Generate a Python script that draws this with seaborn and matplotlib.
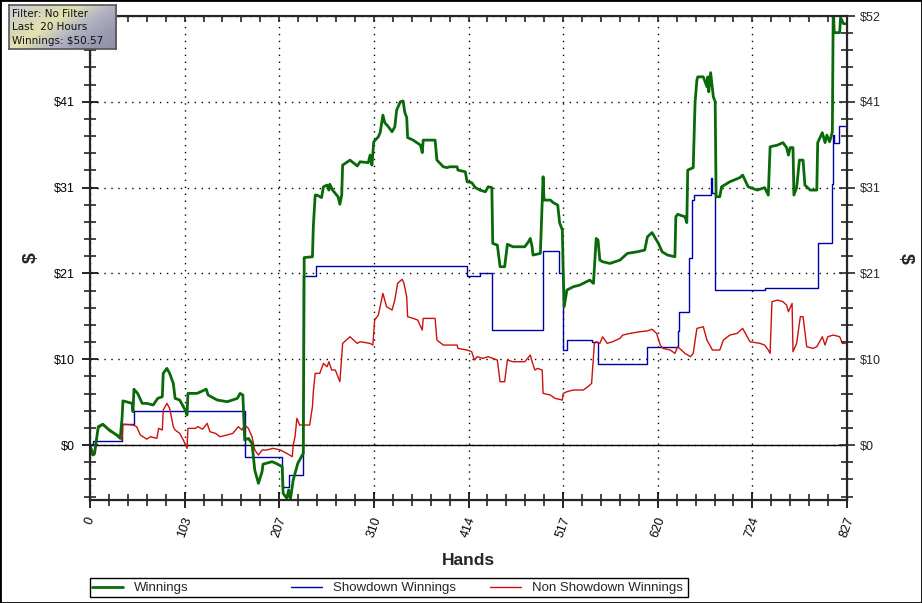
import matplotlib
matplotlib.use("Agg")
import matplotlib.pyplot as plt
import seaborn as sns
import numpy as np
import pandas as pd
from matplotlib.patches import Rectangle
from matplotlib.colors import LinearSegmentedColormap

# ---------------- data (hand number, dollars) ----------------
winnings_points = [
    (0, 0.0), (3, -1.2), (5, -1.0), (9, 2.2), (14, 2.5), (20, 1.9), (29, 1.2), (33, 0.8),
    (35, 3.2), (36, 5.3), (46, 5.0), (47, 4.0), (48, 6.7), (52, 6.2), (57, 5.0), (62, 5.0),
    (69, 4.8), (74, 5.6), (79, 5.8), (80, 8.6), (84, 9.2), (87, 8.6), (91, 7.4), (93, 5.6),
    (98, 5.4), (104, 4.2), (106, 3.6), (107, 6.2), (117, 6.2), (127, 6.7), (129, 6.0),
    (139, 5.4), (150, 5.2), (161, 5.6), (164, 6.2), (167, 6.0), (169, 0.6), (173, 0.8),
    (177, 0.2), (180, -3.0), (184, -4.6), (188, -3.2), (189, -2.3), (199, -2.0), (205, -2.3),
    (210, -2.6), (211, -5.8), (215, -6.4), (217, -5.4), (219, -6.5), (222, -4.2), (227, -2.2),
    (232, -1.2), (233, -1.0), (234, 22.5), (243, 22.6), (244, 26.3), (246, 30.0), (248, 30.0),
    (253, 29.7), (255, 31.0), (259, 31.2), (261, 30.6), (262, 31.3), (265, 30.6), (271, 29.8),
    (273, 28.9), (275, 30.0), (276, 33.6), (284, 34.2), (292, 33.5), (295, 34.0), (304, 33.9),
    (306, 34.8), (308, 33.6), (310, 36.4), (315, 37.0), (317, 37.5), (320, 39.6), (322, 38.7),
    (326, 38.2), (330, 37.6), (333, 38.2), (335, 40.2), (339, 41.2), (342, 41.3), (344, 39.9),
    (346, 39.3), (347, 36.9), (353, 36.6), (361, 36.0), (363, 35.1), (364, 36.6), (377, 36.6),
    (379, 34.2), (386, 33.4), (390, 33.3), (393, 33.4), (401, 33.4), (402, 33.0), (410, 32.8),
    (412, 31.6), (417, 31.5), (421, 30.9), (426, 30.6), (432, 30.4), (435, 31.0), (439, 30.9),
    (440, 24.2), (445, 24.0), (448, 21.4), (453, 21.4), (456, 24.1), (462, 23.8), (475, 23.8),
    (479, 24.4), (481, 24.8), (483, 23.8), (484, 22.8), (492, 23.0), (495, 32.2), (496, 29.4),
    (503, 29.4), (506, 29.1), (511, 28.8), (513, 26.7), (516, 25.8), (517, 20.6), (518, 16.6),
    (521, 18.6), (528, 19.0), (535, 19.2), (546, 19.8), (550, 19.4), (553, 24.8), (555, 24.6),
    (557, 22.2), (560, 22.0), (568, 21.8), (579, 22.2), (587, 23.0), (598, 23.2), (606, 23.4),
    (609, 25.0), (614, 25.5), (621, 24.2), (625, 23.2), (631, 22.8), (639, 22.6), (640, 27.4),
    (642, 27.7), (650, 27.4), (652, 26.7), (653, 33.0), (659, 33.3), (661, 41.1), (663, 43.8),
    (664, 44.2), (670, 44.2), (674, 43.0), (675, 44.2), (676, 42.4), (678, 44.7), (681, 41.8),
    (683, 41.2), (684, 29.8), (688, 29.8), (690, 31.0), (699, 31.6), (710, 32.1), (713, 32.4),
    (719, 31.0), (729, 30.6), (737, 30.9), (741, 30.0), (743, 35.8), (751, 36.0), (757, 36.3),
    (761, 35.7), (763, 34.8), (765, 35.7), (768, 35.7), (769, 30.0), (772, 30.9), (775, 34.2),
    (779, 34.2), (781, 31.2), (787, 30.6), (794, 30.6), (795, 36.3), (800, 37.5), (803, 36.3),
    (805, 37.2), (808, 36.4), (811, 37.6), (812, 53.0), (813, 49.5), (819, 49.5), (820, 51.3),
    (823, 50.6), (825, 50.57),
]

showdown_points = [
    (0, 0.0), (3, 0.5), (35, 2.5), (48, 4.1), (169, -1.4), (210, -5.0), (217, -3.6),
    (233, 20.3), (247, 21.5), (412, 20.3), (426, 20.6), (439, 13.8), (495, 23.3), (512, 20.6),
    (517, 11.4), (521, 12.6), (548, 12.4), (555, 9.7), (609, 11.8), (642, 13.7), (644, 16.0),
    (654, 22.4), (658, 29.4), (660, 30.0), (678, 32.0), (680, 30.2), (683, 18.6), (737, 18.8),
    (795, 24.2), (811, 31.3), (812, 37.2), (813, 36.2), (818, 38.3), (825, 38.3),
]

non_showdown_points = [
    (0, 0.0), (5, -1.2), (9, 2.0), (14, 2.4), (22, 1.6), (31, 1.2), (35, 0.6), (36, 2.5),
    (47, 2.4), (51, 2.2), (55, 1.2), (58, 1.0), (62, 0.7), (66, 1.0), (73, 0.8), (75, 2.0),
    (79, 1.8), (80, 4.2), (84, 5.0), (87, 4.4), (91, 2.2), (93, 1.8), (98, 1.4), (102, 0.6),
    (106, -0.4), (107, 2.0), (115, 2.0), (118, 2.2), (123, 1.9), (128, 2.6), (131, 1.6),
    (137, 1.4), (142, 1.0), (150, 1.2), (156, 1.4), (162, 2.2), (166, 1.8), (169, 2.4),
    (173, 2.0), (177, 1.0), (180, -0.6), (184, -1.2), (188, -0.6), (193, -0.6), (200, -0.4),
    (208, -0.6), (215, -1.0), (221, -1.4), (222, 0.0), (224, 1.0), (226, 3.2), (229, 2.4),
    (240, 2.4), (243, 4.6), (244, 6.4), (246, 8.6), (251, 8.6), (255, 9.8), (259, 9.4),
    (261, 10.0), (264, 9.0), (268, 9.0), (273, 7.6), (275, 10.6), (276, 12.2), (284, 13.0),
    (292, 12.2), (295, 12.4), (306, 12.2), (309, 12.0), (311, 15.0), (315, 15.6), (320, 18.2),
    (324, 16.6), (330, 16.2), (333, 17.4), (336, 19.4), (341, 19.9), (343, 19.4), (346, 17.8),
    (347, 15.4), (353, 15.2), (358, 15.0), (363, 13.8), (364, 15.2), (377, 15.2), (379, 12.6),
    (386, 12.0), (401, 12.0), (402, 11.6), (412, 11.4), (417, 11.2), (420, 10.2), (423, 10.6),
    (429, 10.4), (435, 10.6), (440, 10.4), (445, 10.2), (448, 7.6), (453, 7.6), (456, 10.2),
    (462, 10.0), (475, 10.0), (481, 10.8), (483, 10.0), (486, 9.0), (489, 9.2), (494, 9.0),
    (495, 6.2), (503, 6.0), (508, 5.6), (516, 5.4), (517, 6.2), (521, 6.4), (528, 6.6),
    (539, 6.6), (544, 7.0), (548, 7.4), (551, 12.2), (553, 12.4), (557, 12.2), (560, 13.0),
    (565, 12.2), (571, 12.4), (579, 12.8), (582, 13.2), (590, 13.4), (601, 13.6), (609, 13.7),
    (614, 13.9), (619, 13.4), (623, 12.0), (626, 11.6), (634, 11.4), (639, 11.0), (642, 11.8),
    (650, 11.0), (656, 10.6), (659, 11.0), (663, 14.0), (670, 14.2), (674, 12.6), (680, 11.4),
    (688, 11.4), (692, 12.6), (699, 13.2), (707, 13.4), (713, 14.0), (718, 13.0), (721, 12.4),
    (732, 12.2), (737, 12.0), (741, 11.4), (743, 11.0), (745, 17.2), (751, 17.4), (757, 17.2),
    (761, 16.8), (763, 16.0), (767, 17.0), (768, 11.2), (772, 12.2), (776, 15.4), (779, 15.4),
    (783, 11.8), (790, 11.6), (794, 11.8), (800, 13.0), (803, 12.0), (806, 13.0), (812, 13.2),
    (819, 13.0), (822, 12.2), (825, 12.2),
]

series_labels = ["Winnings", "Showdown Winnings", "Non Showdown Winnings"]
x_tick_values = [0, 103.375, 206.75, 310.125, 413.5, 516.875, 620.25, 723.625, 827]
x_tick_labels = ["0", "103", "207", "310", "414", "517", "620", "724", "827"]
y_tick_values = [0, 10.3, 20.6, 30.9, 41.2, 51.5]
y_tick_labels = ["$0", "$10", "$21", "$31", "$41", "$52"]
info_lines = ["Filter: No Filter", "Last  20 Hours", "Winnings: $50.57"]

# ---------------- figure ----------------
sns.set_style("white")
plt.rcParams["font.family"] = ["Liberation Sans", "DejaVu Sans"]

W, H = 922, 603
fig = plt.figure(figsize=(W / 100, H / 100), dpi=100, facecolor="white")
ax = fig.add_axes([90 / W, 1 - 500 / H, 757 / W, 484 / H])
ax.set_facecolor("white")

XMIN, XMAX = 0, 827
YMIN, YMAX = -6.6, 51.5

def to_df(points):
    return pd.DataFrame(points, columns=["hand", "value"])

df_sd = to_df(showdown_points)
df_nsd = to_df(non_showdown_points)
df_w = to_df(winnings_points)

sns.lineplot(data=df_sd, x="hand", y="value", ax=ax, color="#0000A8", lw=1.0,
             drawstyle="steps-post", estimator=None, sort=False, zorder=3, legend=False)
line_sd = ax.lines[-1]
sns.lineplot(data=df_nsd, x="hand", y="value", ax=ax, color="#CC1010", lw=1.0,
             estimator=None, sort=False, zorder=4, legend=False)
line_nsd = ax.lines[-1]
sns.lineplot(data=df_w, x="hand", y="value", ax=ax, color="#0A6A0A", lw=2.0,
             estimator=None, sort=False, zorder=5, legend=False)
line_w = ax.lines[-1]

ax.axhline(0, color="black", lw=1.0, zorder=2)

ax.set_xlim(XMIN, XMAX)
ax.set_ylim(YMIN, YMAX)

# ticks
ax.set_xticks(x_tick_values)
ax.set_xticklabels(x_tick_labels, rotation=70, fontsize=9)
ax.set_xticks(np.arange(0, XMAX + 0.1, 103.375 / 5), minor=True)
ax.set_yticks(y_tick_values)
# the top-left label sits under the info box in the reference
ax.set_yticklabels(y_tick_labels[:-1] + [""], fontsize=9)
ax.set_yticks(np.arange(-2.06 * 3, YMAX + 0.1, 2.06), minor=True)

ax.tick_params(axis="both", which="major", direction="inout", length=12, width=1.2,
               colors="black", pad=5, top=False, right=False)
ax.tick_params(axis="both", which="minor", direction="inout", length=9, width=1.2,
               top=False, right=False)

ax.grid(True, which="major", color="black", linestyle=(0, (1, 4)), linewidth=1.0)
ax.set_axisbelow(True)

for s in ax.spines.values():
    s.set_linewidth(1.5)
    s.set_color("black")

ax.set_xlabel("Hands", fontsize=12.5, fontweight="bold")
ax.xaxis.label.set_va("center")
ax.xaxis.set_label_coords(0.5, -0.124)
ax.set_ylabel("$", fontsize=14, fontweight="bold")
ax.yaxis.label.set_va("center")
ax.yaxis.set_label_coords(-0.078, 0.5)

# right axis
ax2 = ax.twinx()
ax2.set_ylim(YMIN, YMAX)
ax2.set_yticks(y_tick_values)
ax2.set_yticklabels(y_tick_labels, fontsize=9)
ax2.set_yticks(np.arange(-2.06 * 3, YMAX + 0.1, 2.06), minor=True)
ax2.tick_params(axis="y", which="major", direction="inout", length=12, width=1.2, pad=3)
ax2.tick_params(axis="y", which="minor", direction="inout", length=9, width=1.2)
ax2.set_ylabel("$", fontsize=14, fontweight="bold", rotation=270)
ax2.yaxis.label.set_va("center")
ax2.yaxis.set_label_coords(1.077, 0.5)
for s in ax2.spines.values():
    s.set_linewidth(1.5)

# top ticks
axt = ax.twiny()
axt.set_xlim(XMIN, XMAX)
axt.set_xticks(np.arange(0, XMAX + 0.1, 103.375 / 5))
axt.tick_params(axis="x", direction="in", length=4, width=1.2, labeltop=False)

# ---------------- legend ----------------
leg_y = 1 - 588 / H
for line, label, hx in zip([line_w, line_sd, line_nsd], series_labels, [92, 291, 490]):
    fig.legend([line], [label], loc="center left", bbox_to_anchor=(hx / W, leg_y),
               frameon=False, borderpad=0, borderaxespad=0, handlelength=2.35,
               handletextpad=0.8, fontsize=9.5)
fig.patches.append(Rectangle((90 / W, 1 - 597 / H), 598 / W, 19 / H,
                             transform=fig.transFigure, fill=False, edgecolor="black", lw=1.0))

# ---------------- info box ----------------
bx0, by0, bw, bh = 9 / W, 1 - 49 / H, 107 / W, 44 / H
axi = fig.add_axes([bx0, by0, bw, bh])
gx, gy = np.meshgrid(np.linspace(0, 1, 200), np.linspace(0, 1, 80))
grad = (gx * 0.75 + gy * 0.45) / 1.2
cmap = LinearSegmentedColormap.from_list(
    "info", ["#cfcfe0", "#d4d4bc", "#e2e2b0", "#b4b4c4", "#9a9ab2", "#8e8eaa"])
axi.imshow(grad, extent=[0, 1, 0, 1], aspect="auto", cmap=cmap, origin="upper")
axi.set_xlim(0, 1)
axi.set_ylim(0, 1)
axi.set_xticks([])
axi.set_yticks([])
axi.set_zorder(10)
for s in axi.spines.values():
    s.set_color("#555555")
    s.set_linewidth(1.2)
for txt, yy in zip(info_lines, [0.80, 0.49, 0.18]):
    fig.text(bx0 + 0.03 * bw, by0 + yy * bh, txt, fontsize=7.5, family=["DejaVu Sans"],
             va="center", ha="left", color="#111111", zorder=20)

# figure border
fig.patches.append(Rectangle((0, 0), 1, 1, transform=fig.transFigure, fill=False,
                             edgecolor="black", lw=2.0))

fig.savefig("out.png", dpi=100, facecolor="white")
